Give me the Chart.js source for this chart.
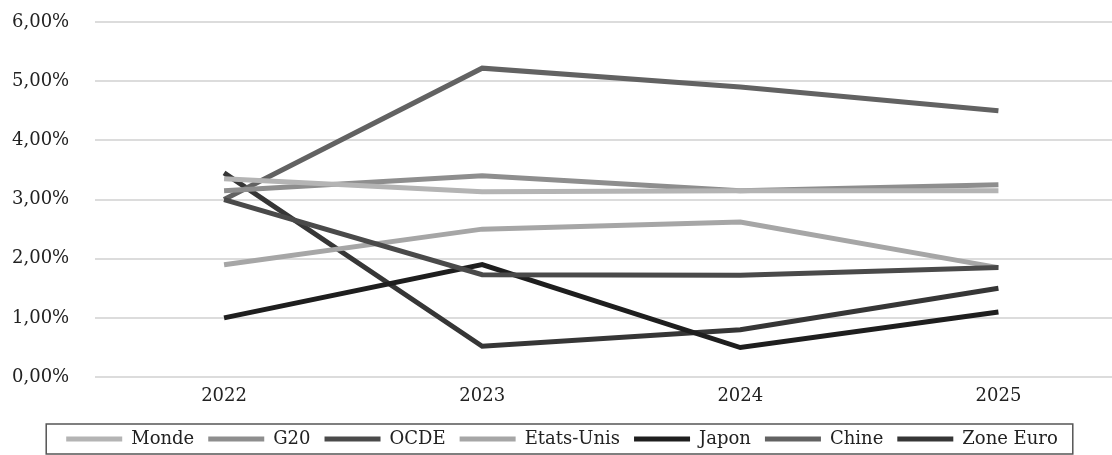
<!DOCTYPE html>
<html>
<head>
<meta charset="utf-8">
<script src="https://cdn.jsdelivr.net/npm/chart.js@4.4.1/dist/chart.umd.min.js"></script>
<style>
  html, body { margin: 0; padding: 0; background: #fff; }
  #wrap { width: 1112px; height: 455px; position: relative; }
</style>
</head>
<body>
<div id="wrap"><canvas id="lineChart"></canvas></div>
<script>
"use strict";
// values (percent)
const years = [2022, 2023, 2024, 2025];
const yTicks = [0, 1, 2, 3, 4, 5, 6];
const monde = [3.35, 3.13, 3.15, 3.15];
const g20 = [3.15, 3.4, 3.15, 3.25];
const ocde = [3.0, 1.73, 1.72, 1.85];
const etatsUnis = [1.9, 2.5, 2.62, 1.85];
const japon = [1.0, 1.9, 0.5, 1.1];
const chine = [3.0, 5.22, 4.9, 4.5];
const zoneEuro = [3.45, 0.52, 0.8, 1.5];

const seriesList = [
  { label: "Monde", values: monde, color: "#b4b4b4" },
  { label: "G20", values: g20, color: "#8e8e8e" },
  { label: "OCDE", values: ocde, color: "#4a4a4a" },
  { label: "Etats-Unis", values: etatsUnis, color: "#a6a6a6" },
  { label: "Japon", values: japon, color: "#1e1e1e" },
  { label: "Chine", values: chine, color: "#626262" },
  { label: "Zone Euro", values: zoneEuro, color: "#363636" },
];

// squeeze the legend block a bit so it sits lower, like in the scan
const legendShift = {
  id: "legendShift",
  beforeInit(chart) {
    const fit = chart.legend.fit;
    chart.legend.fit = function () {
      fit.bind(chart.legend)();
      this.height -= 3;
    };
  },
};

const legendBorder = {
  id: "legendBorder",
  afterDraw(chart) {
    const boxes = chart.legend && chart.legend.legendHitBoxes;
    if (!boxes || !boxes.length) return;
    let left = Infinity, right = -Infinity, top = Infinity, bottom = -Infinity;
    boxes.forEach((b) => {
      left = Math.min(left, b.left);
      right = Math.max(right, b.left + b.width);
      top = Math.min(top, b.top);
      bottom = Math.max(bottom, b.top + b.height);
    });
    const ctx = chart.ctx;
    ctx.save();
    ctx.strokeStyle = "#555";
    ctx.lineWidth = 1.5;
    ctx.strokeRect(left - 20, top - 6, right - left + 35, bottom - top + 12);
    ctx.restore();
  },
};

const ctx = document.getElementById("lineChart");
new Chart(ctx, {
  type: "line",
  data: {
    datasets: seriesList.map((s) => ({
      label: s.label,
      data: years.map((yr, i) => ({ x: yr, y: s.values[i] })),
      borderColor: s.color,
      backgroundColor: s.color,
      borderWidth: 5,
      pointRadius: 0,
      tension: 0,
    })),
  },
  options: {
    responsive: true,
    maintainAspectRatio: false,
    animation: false,
    layout: { padding: { left: 12, right: 0, top: 22, bottom: 0 } },
    plugins: {
      tooltip: { enabled: false },
      legend: {
        position: "bottom",
        labels: {
          usePointStyle: true,
          pointStyle: "line",
          pointStyleWidth: 56,
          boxHeight: 5,
          padding: 14,
          color: "#222",
          font: { family: "DejaVu Serif", size: 18 },
        },
      },
    },
    scales: {
      x: {
        type: "linear",
        min: 2021.5,
        max: 2025.44,
        afterBuildTicks: (axis) => {
          axis.ticks = years.map((v) => ({ value: v }));
        },
        grid: { display: false, drawTicks: false },
        border: { display: false },
        ticks: {
          padding: 10,
          color: "#222",
          font: { family: "DejaVu Serif", size: 18, lineHeight: 1.05 },
          callback: (v) => String(v),
        },
      },
      y: {
        min: 0,
        max: 6,
        afterBuildTicks: (axis) => {
          axis.ticks = yTicks.map((v) => ({ value: v }));
        },
        afterFit: (axis) => {
          axis.width = 83;
        },
        grid: { color: "#dcdcdc", lineWidth: 2, drawTicks: false },
        border: { display: false },
        ticks: {
          padding: 4,
          crossAlign: "far",
          color: "#222",
          font: { family: "DejaVu Serif", size: 18 },
          callback: (v) => v.toFixed(2).replace(".", ",") + "%",
        },
      },
    },
  },
  plugins: [legendShift, legendBorder],
});
</script>
</body>
</html>
